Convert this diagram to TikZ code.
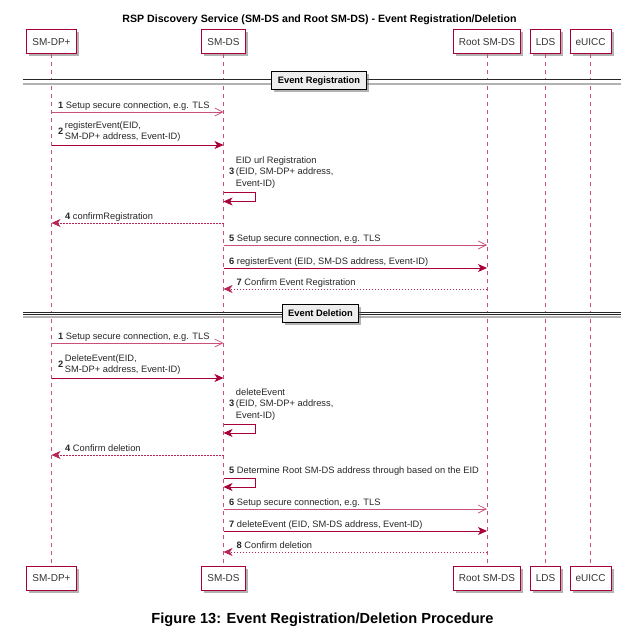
\documentclass[tikz,border=0pt]{standalone}
\usepackage{fontspec}
\setmainfont{Liberation Sans}
\usetikzlibrary{arrows.meta,shadows}
\definecolor{puml}{HTML}{A80036}
\definecolor{pumllight}{HTML}{C8507A}
\begin{document}
\begin{tikzpicture}[x=1pt,y=-1pt,
  part/.style={draw=puml, line width=1pt, fill=white, minimum height=24pt, inner xsep=5.5pt,
    font=\fontsize{10}{12}\selectfont, text=black!80,
    drop shadow={shadow xshift=2.5pt, shadow yshift=-2.5pt, opacity=0.5, fill=black!60}},
  life/.style={draw=pumllight, line width=0.6pt, dash pattern=on 4pt off 4pt},
  msg/.style={anchor=base west, font=\fontsize{9.3}{11.5}\selectfont, inner sep=0pt, text=black!85},
  mmsg/.style={anchor=south west, font=\fontsize{9.3}{11.5}\selectfont, inner sep=0pt, text=black!85},
  sync/.style={draw=puml, line width=0.8pt, -{Stealth[length=9pt,width=8pt,inset=2.5pt]}},
  async/.style={draw=pumllight, line width=0.7pt, -{Straight Barb[length=8pt,width=8pt]}},
  ret/.style={draw=puml!85!white, line width=0.7pt, dash pattern=on 1.5pt off 1.5pt, -{Stealth[length=9pt,width=8pt,inset=2.5pt]}},
  selfl/.style={draw=puml, line width=0.8pt, -{Stealth[length=9pt,width=8pt,inset=2.5pt]}},
  divlbl/.style={draw=black, line width=1pt, fill=black!7, inner xsep=6pt, minimum height=18pt,
    font=\bfseries\fontsize{9.3}{11}\selectfont,
    drop shadow={shadow xshift=2.5pt, shadow yshift=-2.5pt, opacity=0.5, fill=black!60}},
  divline/.style={draw=black!85, double=white, double distance=1.6pt, line width=0.7pt}
]
\useasboundingbox (0,0) rectangle (624,639);

% title
\node[font=\bfseries\fontsize{10.6}{12}\selectfont, anchor=base] (title) at (319.5,23) {RSP Discovery Service (SM-DS and Root SM-DS) - Event Registration/Deletion};

% participants (top)
\node[part] (dpT) at (51.5,42) {SM-DP+};
\node[part] (dsT) at (223.5,42) {SM-DS};
\node[part] (rtT) at (487,42) {Root SM-DS};
\node[part] (ldT) at (545.5,42) {LDS};
\node[part] (euT) at (590.5,42) {eUICC};
% participants (bottom)
\node[part] (dpB) at (51.5,578) {SM-DP+};
\node[part] (dsB) at (223.5,578) {SM-DS};
\node[part] (rtB) at (487,578) {Root SM-DS};
\node[part] (ldB) at (545.5,578) {LDS};
\node[part] (euB) at (590.5,578) {eUICC};

% lifelines
\draw[life] (dpT.south) -- (dpB.north);
\draw[life] (dsT.south) -- (dsB.north);
\draw[life] (rtT.south) -- (rtB.north);
\draw[life] (ldT.south) -- (ldB.north);
\draw[life] (euT.south) -- (euB.north);

% ---------- Event Registration ----------
\coordinate (r1l) at (23,81);
\coordinate (r1r) at (621,81);
\draw[black!30, line width=2pt] ([yshift=-3.5pt]r1l) -- ([yshift=-3.5pt]r1r);
\draw[divline] (r1l) -- (r1r);
\node[divlbl] (reg) at (319,81) {Event Registration};

% 1
\draw[async] (dpT.south |- 0,112) -- (dsT.south |- 0,112);
\node[msg] (m1) at (58,108.5) {\textbf{1} Setup secure connection, e.g. TLS};
% 2
\draw[sync] (dpT.south |- 0,145) -- (dsT.south |- 0,145);
\node[mmsg] (m2) at (58,143.5) {\textbf{2}\,\begin{tabular}[c]{@{}l@{}}registerEvent(EID,\\SM-DP+ address, Event-ID)\end{tabular}};
% 3 (self)
\node[mmsg] (m3) at (229,190) {\textbf{3}\,\begin{tabular}[c]{@{}l@{}}EID url Registration\\(EID, SM-DP+ address,\\Event-ID)\end{tabular}};
\coordinate (s3a) at (255,192);
\coordinate (s3b) at (255,201.5);
\draw[selfl] (dsT.south |- s3a) -- (s3a) -- (s3b) -- (dsT.south |- s3b);
% 4
\draw[ret] (dsT.south |- 0,223) -- (dpT.south |- 0,223);
\node[msg] (m4) at (65,219.5) {\textbf{4} confirmRegistration};
% 5
\draw[async] (dsT.south |- 0,245) -- (rtT.south |- 0,245);
\node[msg] (m5) at (229,241.5) {\textbf{5} Setup secure connection, e.g. TLS};
% 6
\draw[sync] (dsT.south |- 0,268) -- (rtT.south |- 0,268);
\node[msg] (m6) at (229,264.5) {\textbf{6} registerEvent (EID, SM-DS address, Event-ID)};
% 7
\draw[ret] (rtT.south |- 0,289) -- (dsT.south |- 0,289);
\node[msg] (m7) at (236.5,285.5) {\textbf{7} Confirm Event Registration};

% ---------- Event Deletion ----------
\coordinate (r2l) at (23,313.5);
\coordinate (r2r) at (621,313.5);
\draw[black!30, line width=2pt] ([yshift=-3.5pt]r2l) -- ([yshift=-3.5pt]r2r);
\draw[divline] (r2l) -- (r2r);
\node[divlbl] (del) at (320.5,313.5) {Event Deletion};

% 1
\draw[async] (dpT.south |- 0,343) -- (dsT.south |- 0,343);
\node[msg] (d1) at (58,339.5) {\textbf{1} Setup secure connection, e.g. TLS};
% 2
\draw[sync] (dpT.south |- 0,378) -- (dsT.south |- 0,378);
\node[mmsg] (d2) at (58,376.5) {\textbf{2}\,\begin{tabular}[c]{@{}l@{}}DeleteEvent(EID,\\SM-DP+ address, Event-ID)\end{tabular}};
% 3 (self)
\node[mmsg] (d3) at (229,422) {\textbf{3}\,\begin{tabular}[c]{@{}l@{}}deleteEvent\\(EID, SM-DP+ address,\\Event-ID)\end{tabular}};
\coordinate (s4a) at (255,424);
\coordinate (s4b) at (255,433);
\draw[selfl] (dsT.south |- s4a) -- (s4a) -- (s4b) -- (dsT.south |- s4b);
% 4
\draw[ret] (dsT.south |- 0,455) -- (dpT.south |- 0,455);
\node[msg] (d4) at (65,451.5) {\textbf{4} Confirm deletion};
% 5 (self)
\node[msg] (d5) at (229,473.5) {\textbf{5} Determine Root SM-DS address through based on the EID};
\coordinate (s5a) at (255,478);
\coordinate (s5b) at (255,487);
\draw[selfl] (dsT.south |- s5a) -- (s5a) -- (s5b) -- (dsT.south |- s5b);
% 6
\draw[async] (dsT.south |- 0,509) -- (rtT.south |- 0,509);
\node[msg] (d6) at (229,505.5) {\textbf{6} Setup secure connection, e.g. TLS};
% 7
\draw[sync] (dsT.south |- 0,531) -- (rtT.south |- 0,531);
\node[msg] (d7) at (229,527.5) {\textbf{7} deleteEvent (EID, SM-DS address, Event-ID)};
% 8
\draw[ret] (rtT.south |- 0,552) -- (dsT.south |- 0,552);
\node[msg] (d8) at (236.5,548.5) {\textbf{8} Confirm deletion};

% caption
\node[font=\bfseries\fontsize{14.6}{16}\selectfont, anchor=base] (cap) at (322.5,623.5) {Figure 13: Event Registration/Deletion Procedure};
\end{tikzpicture}
\end{document}
